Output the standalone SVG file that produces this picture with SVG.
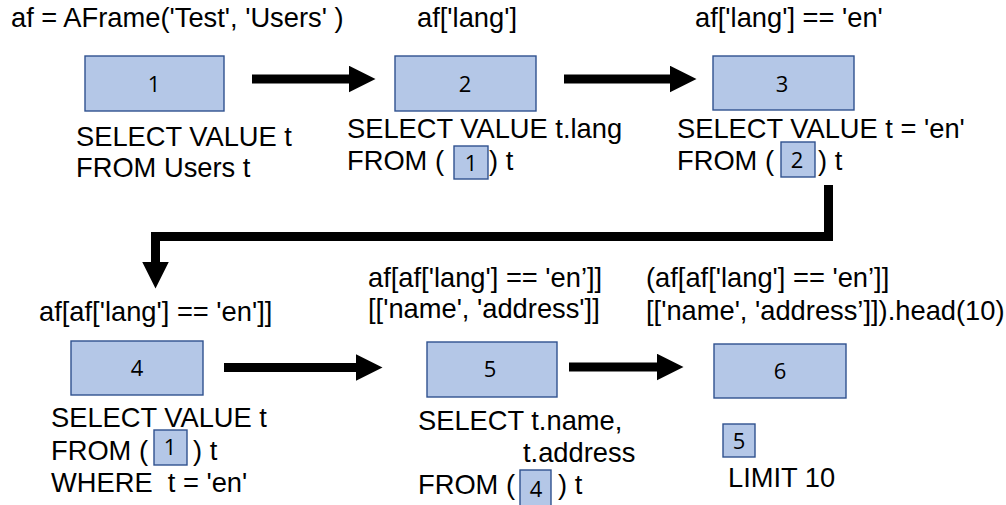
<svg xmlns="http://www.w3.org/2000/svg" width="1006" height="505" viewBox="0 0 1006 505">
  <style>
    .code { font-family: "Liberation Sans", Arial, sans-serif; font-size: 27.3px; fill: #000; }
    .box { fill: #B4C7E7; stroke: #2F528F; stroke-width: 1.4; }
    .num { font-family: "Open Sans", "Noto Sans", sans-serif; font-size: 22px; fill: #000; text-anchor: middle; }
    .flow { fill: none; stroke: #000; stroke-width: 9; stroke-linecap: butt; stroke-linejoin: miter; }
  </style>
  <defs>
    <marker id="head" markerUnits="userSpaceOnUse" markerWidth="28" markerHeight="28" refX="0.5" refY="13.5" orient="auto">
      <path d="M0,0 L27,13.5 L0,27 Z" fill="#000"/>
    </marker>
  </defs>
  <rect width="1006" height="505" fill="#fff"/>

  <!-- connectors -->
  <g id="connectors">
    <path class="flow" d="M252,79 H349" marker-end="url(#head)"/>
    <path class="flow" d="M564,79 H670" marker-end="url(#head)"/>
    <path class="flow" d="M828.5,185 V236.5 H155.5 V262" marker-end="url(#head)"/>
    <path class="flow" d="M224,367.5 H356" marker-end="url(#head)"/>
    <path class="flow" d="M569,367 H657" marker-end="url(#head)"/>
  </g>

  <!-- step 1 -->
  <g id="node1">
    <text class="code" x="11" y="27">af = AFrame('Test', 'Users' )</text>
    <rect class="box" x="85" y="56" width="139" height="55"/>
    <text class="num" x="154" y="92">1</text>
    <text class="code" x="76" y="146">SELECT VALUE t</text>
    <text class="code" x="76" y="177">FROM Users t</text>
  </g>

  <!-- step 2 -->
  <g id="node2">
    <text class="code" x="417" y="27">af['lang']</text>
    <rect class="box" x="395" y="56" width="141" height="55"/>
    <text class="num" x="465" y="92">2</text>
    <text class="code" x="347" y="138">SELECT VALUE t.lang</text>
    <text class="code" x="347" y="170">FROM (</text>
    <rect class="box" x="454" y="146" width="34" height="33"/>
    <text class="num" x="471" y="171">1</text>
    <text class="code" x="489" y="170">) t</text>
  </g>

  <!-- step 3 -->
  <g id="node3">
    <text class="code" x="695" y="27">af['lang'] == 'en'</text>
    <rect class="box" x="713" y="56" width="141" height="54"/>
    <text class="num" x="782" y="92">3</text>
    <text class="code" x="677" y="138">SELECT VALUE t = 'en'</text>
    <text class="code" x="677" y="170">FROM (</text>
    <rect class="box" x="781" y="142" width="34" height="35"/>
    <text class="num" x="797" y="168">2</text>
    <text class="code" x="818" y="170">) t</text>
  </g>

  <!-- step 4 -->
  <g id="node4">
    <text class="code" x="39" y="321">af[af['lang'] == 'en']]</text>
    <rect class="box" x="71" y="341" width="132" height="54"/>
    <text class="num" x="137" y="376">4</text>
    <text class="code" x="51" y="427">SELECT VALUE t</text>
    <text class="code" x="51" y="460">FROM (</text>
    <rect class="box" x="154" y="430" width="33" height="35"/>
    <text class="num" x="170" y="455">1</text>
    <text class="code" x="193" y="460">) t</text>
    <text class="code" x="51" y="492" xml:space="preserve">WHERE  t = 'en'</text>
  </g>

  <!-- step 5 -->
  <g id="node5">
    <text class="code" x="368" y="287">af[af['lang'] == 'en’]]</text>
    <text class="code" x="368" y="318">[['name', 'address']]</text>
    <rect class="box" x="427" y="342" width="130" height="55"/>
    <text class="num" x="490" y="377">5</text>
    <text class="code" x="418" y="430">SELECT t.name,</text>
    <text class="code" x="523" y="462">t.address</text>
    <text class="code" x="418" y="494">FROM (</text>
    <rect class="box" x="520" y="470" width="31" height="40"/>
    <text class="num" x="536" y="497">4</text>
    <text class="code" x="558" y="494">) t</text>
  </g>

  <!-- step 6 -->
  <g id="node6">
    <text class="code" x="646" y="287">(af[af['lang'] == 'en’]]</text>
    <text class="code" x="646" y="320">[['name', 'address’]]).head(10)</text>
    <rect class="box" x="714" y="344" width="132" height="54"/>
    <text class="num" x="780" y="379">6</text>
    <rect class="box" x="723" y="424" width="32" height="33"/>
    <text class="num" x="739" y="449">5</text>
    <text class="code" x="728" y="487">LIMIT 10</text>
  </g>
</svg>
